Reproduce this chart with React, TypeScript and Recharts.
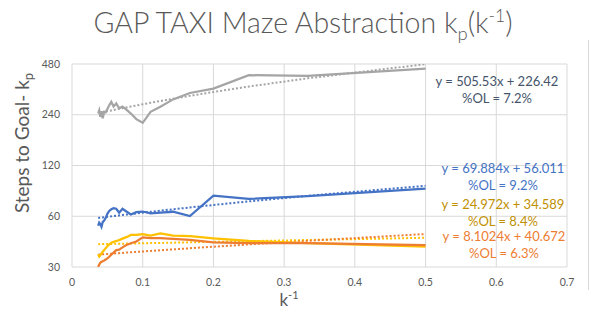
import { LineChart, Line, XAxis, YAxis, CartesianGrid } from 'recharts'

// k^-1 values (1/27 ... 1/2)
const kInv = [
  0.037, 0.0385, 0.04, 0.0417, 0.0435, 0.0455, 0.0476, 0.05, 0.0526, 0.0556, 0.0588, 0.0625, 0.0667,
  0.0714, 0.0769, 0.0833, 0.0909, 0.1, 0.1111, 0.125, 0.1429, 0.1667, 0.2, 0.25, 0.3333, 0.5,
]

const graySteps = [
  245, 255, 233, 252, 229, 250, 248, 260, 273, 286, 269, 280, 262, 268, 257, 244, 226, 215, 250, 268,
  296, 323, 343, 412, 408, 451,
]
const blueSteps = [
  52.7, 55, 54, 52, 55.5, 56.5, 58.5, 62, 64.5, 66, 67, 66.5, 63, 66.5, 64, 61.5, 63.5, 64, 62.4, 63,
  63.8, 60.1, 79.4, 76, 79, 87.6,
]
const yellowSteps = [
  35.7, 34.6, 35.2, 36.1, 37, 37.8, 38.8, 39.8, 40.8, 41.8, 42.3, 42.8, 43.3, 44.2, 45.1, 46.5, 46.5, 47,
  46, 47.5, 46, 45.8, 44.4, 42.9, 41.5, 39.6,
]
const orangeSteps = [
  30, 31, 31.8, 32.2, 32.5, 32.8, 33.2, 33.8, 34.5, 35.5, 36.5, 37.8, 38, 39.2, 40.5, 41.5, 42.5, 45,
  44.5, 44.5, 44, 43.5, 42, 41.5, 41.5, 40.5,
]

// linear trendline coefficients [slope, intercept] as printed on the chart
const grayFit = [505.53, 226.42]
const blueFit = [69.884, 56.011]
const orangeFit = [24.972, 34.589]
const yellowFit = [8.1024, 40.672]

const xTicks = [0, 0.1, 0.2, 0.3, 0.4, 0.5, 0.6, 0.7]
const yTicks = [30, 60, 120, 240, 480]

const fitLabels = [
  { lines: ['y = 505.53x + 226.42', '%OL = 7.2%'], color: '#44546A', x: 497, y: 86 },
  { lines: ['y = 69.884x + 56.011', '%OL = 9.2%'], color: '#4472C4', x: 503, y: 173 },
  { lines: ['y = 24.972x + 34.589', '%OL = 8.4%'], color: '#BF9000', x: 503, y: 209 },
  { lines: ['y = 8.1024x + 40.672', '%OL = 6.3%'], color: '#ED7D31', x: 504, y: 241 },
]

const data = kInv.map((x, i) => ({
  x,
  gray: graySteps[i],
  blue: blueSteps[i],
  yellow: yellowSteps[i],
  orange: orangeSteps[i],
  grayFit: grayFit[0] * x + grayFit[1],
  blueFit: blueFit[0] * x + blueFit[1],
  orangeFit: orangeFit[0] * x + orangeFit[1],
  yellowFit: yellowFit[0] * x + yellowFit[1],
}))

const font = 'Lato, "Open Sans", sans-serif'
const textGray = '#595959'

export default function App() {
  return (
    <div style={{ position: 'absolute', left: 0, top: 0, width: 591, height: 327, background: '#fff' }}>
      <LineChart width={591} height={327} data={data} margin={{ top: 64, right: 24, bottom: 0, left: 0 }}>
        <CartesianGrid stroke="#d9d9d9" strokeWidth={1} />
        <XAxis
          type="number"
          dataKey="x"
          domain={[0, 0.7]}
          ticks={xTicks}
          height={60}
          axisLine={false}
          tickLine={false}
          tickMargin={6}
          tick={{ fontFamily: font, fontSize: 10.5, fill: textGray }}
        />
        <YAxis
          scale="log"
          domain={[30, 480]}
          ticks={yTicks}
          allowDataOverflow
          width={72}
          axisLine={false}
          tickLine={false}
          tickMargin={6}
          tick={{ fontFamily: font, fontSize: 10.5, fill: textGray }}
        />
        <Line dataKey="grayFit" stroke="#A5A5A5" strokeWidth={2} strokeDasharray="2 2" dot={false} isAnimationActive={false} />
        <Line dataKey="blueFit" stroke="#4472C4" strokeWidth={2} strokeDasharray="2 2" dot={false} isAnimationActive={false} />
        <Line dataKey="yellowFit" stroke="#FFC000" strokeWidth={2} strokeDasharray="2 2" dot={false} isAnimationActive={false} />
        <Line dataKey="orangeFit" stroke="#ED7D31" strokeWidth={2} strokeDasharray="2 2" dot={false} isAnimationActive={false} />
        <Line dataKey="gray" stroke="#A5A5A5" strokeWidth={2.25} dot={false} isAnimationActive={false} />
        <Line dataKey="blue" stroke="#4472C4" strokeWidth={2.25} dot={false} isAnimationActive={false} />
        <Line dataKey="yellow" stroke="#FFC000" strokeWidth={2.25} dot={false} isAnimationActive={false} />
        <Line dataKey="orange" stroke="#ED7D31" strokeWidth={2.25} dot={false} isAnimationActive={false} />
      </LineChart>
      <svg
        width={591}
        height={327}
        style={{ position: 'absolute', left: 0, top: 0, pointerEvents: 'none' }}
        fontFamily={font}
      >
        <line x1={588.5} y1={40} x2={588.5} y2={290} stroke="#d9d9d9" />
        <text x={303} y={33} textAnchor="middle" fontSize={28.5} fontWeight={300} fill={textGray}>
          GAP TAXI Maze Abstraction k
          <tspan dy={7} fontSize={18.5}>p</tspan>
          <tspan dy={-7}>(k</tspan>
          <tspan dy={-11} fontSize={17.5}>-1</tspan>
          <tspan dy={11}>)</tspan>
        </text>
        <text transform="rotate(-90)" x={-143} y={29} textAnchor="middle" fontSize={19} fill={textGray}>
          Steps to Goal- k
          <tspan dy={4} fontSize={13}>p</tspan>
        </text>
        <text x={289} y={306} textAnchor="middle" fontSize={17} fill={textGray}>
          k<tspan dy={-7} fontSize={11}>-1</tspan>
        </text>
        {fitLabels.map((l) =>
          l.lines.map((s, j) => (
            <text key={s} x={l.x} y={l.y + j * 16.5} textAnchor="middle" fontSize={13} fill={l.color}>
              {s}
            </text>
          )),
        )}
      </svg>
    </div>
  )
}
